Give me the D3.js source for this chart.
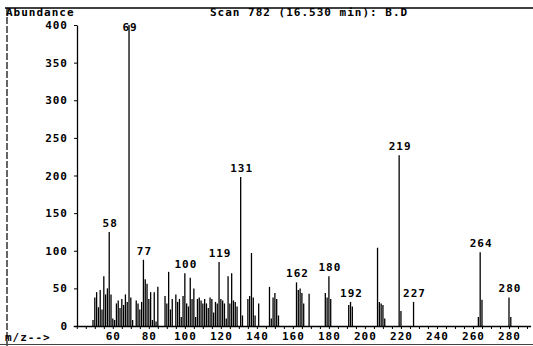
<!DOCTYPE html>
<html>
<head>
<meta charset="utf-8">
<script src="https://cdn.jsdelivr.net/npm/d3@7"></script>
<style>
  body { margin: 0; background: #fff; }
  text { font-family: "DejaVu Sans Mono", monospace; font-weight: bold; font-size: 11px; letter-spacing: 1px; fill: #000; }
</style>
</head>
<body>
<script>
// peaks (m/z and abundance)
var mz = [49, 50, 51, 52, 53, 54, 55, 56, 57, 58, 59, 60, 61, 62, 63, 64, 65, 66, 67, 68,
  69, 70, 71, 73, 74, 75, 76, 77, 78, 79, 80, 81, 82, 83, 84, 85, 89, 90, 91, 92,
  93, 95, 96, 97, 98, 99, 100, 101, 102, 103, 104, 105, 106, 107, 108, 109, 110, 111, 112, 113,
  114, 115, 116, 117, 118, 119, 120, 121, 122, 123, 124, 125, 126, 127, 128, 129, 131, 132, 135, 136,
  137, 138, 139, 141, 147, 148, 149, 150, 151, 152, 162, 163, 164, 165, 166, 169, 178, 179, 180, 181,
  191, 192, 193, 207, 208, 209, 210, 211, 219, 220, 227, 263, 264, 265, 280, 281];
var abundance = [8, 38, 45, 25, 48, 22, 66, 42, 50, 125, 42, 10, 8, 30, 34, 24, 36, 28, 42, 32,
  400, 38, 8, 34, 30, 22, 32, 88, 62, 56, 36, 45, 8, 45, 6, 52, 40, 30, 72, 22,
  36, 42, 32, 36, 12, 40, 70, 30, 26, 64, 36, 50, 12, 36, 38, 34, 30, 36, 30, 24,
  38, 36, 18, 32, 30, 85, 36, 34, 30, 10, 66, 30, 70, 34, 32, 26, 198, 14, 36, 40,
  97, 38, 14, 30, 52, 10, 38, 44, 36, 14, 58, 48, 50, 44, 30, 43, 44, 38, 66, 36,
  28, 32, 26, 104, 32, 30, 28, 10, 227, 20, 32, 12, 98, 35, 38, 12];
var labeled = [58, 69, 77, 100, 119, 131, 162, 180, 192, 219, 227, 264, 280];
var yTicks = [0, 50, 100, 150, 200, 250, 300, 350, 400];
var xTicks = [60, 80, 100, 120, 140, 160, 180, 200, 220, 240, 260, 280];

var peaks = mz.map(function(m, i) { return { mz: m, ab: abundance[i] }; });

var svg = d3.select("body").append("svg")
  .attr("width", 533)
  .attr("height", 346);

var x = d3.scaleLinear().domain([38, 292]).range([73.2, 530.6]);
var y = d3.scaleLinear().domain([0, 400]).range([326, 25]);

// frame lines of the printout
svg.append("line").attr("x1", 5).attr("x2", 533).attr("y1", 8).attr("y2", 8)
  .attr("stroke", "#000").attr("stroke-width", 1.5);
svg.append("line").attr("x1", 7).attr("x2", 7).attr("y1", 8).attr("y2", 346)
  .attr("stroke", "#000").attr("stroke-width", 1.2).attr("stroke-dasharray", "7,2");
svg.append("line").attr("x1", 0).attr("x2", 533).attr("y1", 344.5).attr("y2", 344.5)
  .attr("stroke", "#444").attr("stroke-width", 1);

// axes
var xAxis = svg.append("g")
  .attr("transform", "translate(0,326)")
  .call(d3.axisBottom(x)
    .tickValues(d3.range(40, 291, 5))
    .tickSize(3)
    .tickSizeOuter(0)
    .tickFormat(function(d) { return xTicks.indexOf(d) >= 0 ? d : ""; }));

var yAxis = svg.append("g")
  .attr("transform", "translate(77,0)")
  .call(d3.axisLeft(y).tickValues(yTicks).tickSize(3).tickSizeOuter(0).tickPadding(6));

svg.selectAll(".domain").attr("stroke", "#000").attr("stroke-width", 1.3);
svg.selectAll(".tick line").attr("stroke", "#000");
svg.selectAll(".tick text").attr("font-family", null).attr("font-size", null).attr("fill", null);

// peak sticks
svg.selectAll("line.peak")
  .data(peaks)
  .enter()
  .append("line")
  .attr("class", "peak")
  .attr("x1", function(d) { return x(d.mz); })
  .attr("x2", function(d) { return x(d.mz); })
  .attr("y1", y(0))
  .attr("y2", function(d) { return y(d.ab); })
  .attr("stroke", "#000")
  .attr("stroke-width", 1.3);

// m/z labels above main peaks
svg.selectAll("text.lab")
  .data(peaks.filter(function(d) { return labeled.indexOf(d.mz) >= 0; }))
  .enter()
  .append("text")
  .attr("class", "lab")
  .attr("x", function(d) { return x(d.mz) + 1; })
  .attr("y", function(d) { return Math.max(y(d.ab) - 5, 31); })
  .attr("text-anchor", "middle")
  .text(function(d) { return d.mz; });

svg.append("text").attr("x", 6).attr("y", 16).text("Abundance");
svg.append("text").attr("x", 210).attr("y", 16).text("Scan 782 (16.530 min): B.D");
svg.append("text").attr("x", 5).attr("y", 341).text("m/z-->");
</script>
</body>
</html>
